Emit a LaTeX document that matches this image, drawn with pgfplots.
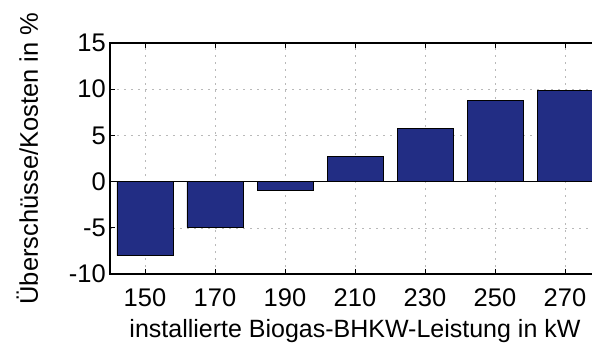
\documentclass[border=0pt]{standalone}
\usepackage{fontspec}
\setmainfont{Liberation Sans}
\usepackage{pgfplots}
\pgfplotsset{compat=1.18}
\definecolor{barblue}{RGB}{34,45,132}

\begin{document}
\begin{tikzpicture}
% reference is cut off at the right edge, so fix the page to 592x343
\useasboundingbox (-110bp,-69bp) rectangle (482bp,274bp);
\clip (-110bp,-69bp) rectangle (482bp,274bp);
\begin{axis}[
    at={(0,0)}, anchor=south west,
    scale only axis,
    width=490bp, height=231bp,
    xmin=140, xmax=280,
    ymin=-10, ymax=15,
    xtick={150,170,...,270},
    ytick={-10,-5,...,15},
    font=\fontsize{25.5bp}{30bp}\selectfont,
    /pgf/number format/assume math mode=true,
    /pgf/number format/1000 sep={},
    axis line style={black, line width=1.1bp},
    tick align=inside,
    major tick length=5bp,
    every tick/.style={black, line width=0.9bp},
    grid=major,
    major grid style={gray!55, line width=0.6bp, dash pattern=on 2bp off 5bp},
    xticklabel style={anchor=north, inner sep=0pt, yshift=-14bp},
    yticklabel style={anchor=east, inner sep=0pt, xshift=-4bp},
    xlabel={installierte Biogas-BHKW-Leistung in kW},
    ylabel={Überschüsse/Kosten in \%},
    xlabel style={at={(axis description cs:0.5,0)}, anchor=north, inner sep=0pt, yshift=-45bp, font=\fontsize{25bp}{30bp}\selectfont},
    ylabel style={at={(axis description cs:0,0.5)}, anchor=base, inner sep=0pt, yshift=72bp},
    extra y ticks={0},
    extra y tick labels={},
    extra y tick style={grid=major, major grid style={black, solid, line width=1.1bp}, major tick length=0pt},
]
\addplot[ybar, bar width=16, bar shift=0pt, fill=barblue, draw=black, line width=0.8bp]
    coordinates {
    (150,-8.0)
    (170,-4.95)
    (190,-1.0)
    (210,2.7)
    (230,5.8)
    (250,8.75)
    (270,9.85)
    };
\end{axis}
\end{tikzpicture}
\end{document}
